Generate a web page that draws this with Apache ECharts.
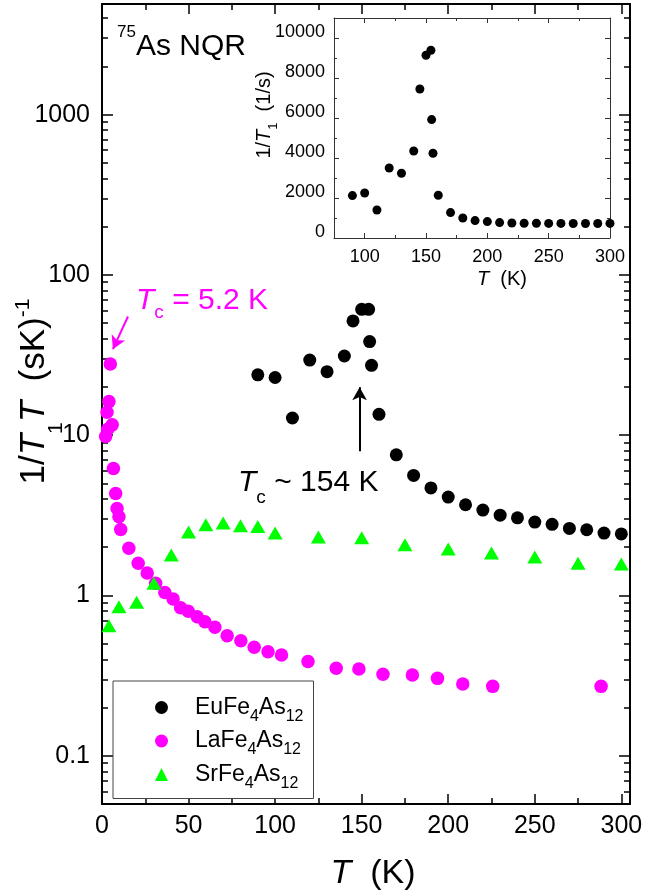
<!DOCTYPE html>
<html><head><meta charset="utf-8">
<script src="https://cdn.jsdelivr.net/npm/echarts@6/dist/echarts.min.js"></script>
<style>html,body{margin:0;padding:0;background:#fff}#c{width:667px;height:895px}</style>
</head><body><div id="c"></div>
<script>
// ---------- data ----------
const euT = [90,100,110,120,130,140,145,150,154,154.6,155.7,160,170,180,190,200,210,220,230,240,250,260,270,280,290,300];
const euV = [23.8,22.9,12.8,29.4,24.9,31.2,51.6,61,61,38.4,27.3,13.5,7.54,5.61,4.69,4.11,3.68,3.41,3.17,3.05,2.87,2.78,2.62,2.57,2.45,2.42];
const laT = [2.1,2.9,3.3,4.0,4.8,5.9,6.6,7.9,8.7,9.8,10.8,15.5,20.9,26.1,31,36.3,41.1,45.4,49.8,55,59.4,65.2,72.3,80.2,87.9,95.9,103.7,119,135.3,148.4,162.3,179.3,193.8,208.4,225.7,288.3];
const laV = [9.8,13.9,10.9,16.2,27.8,11.6,6.2,4.33,3.49,3.1,2.58,1.97,1.59,1.38,1.19,1.045,0.95,0.838,0.796,0.737,0.686,0.633,0.561,0.522,0.475,0.446,0.425,0.387,0.351,0.348,0.322,0.319,0.304,0.28,0.271,0.271];
const srT = [4,9.8,20,30,40,50,60,70,80,90,100,125,150,175,200,225,250,275,300];
const srV = [0.647,0.85,0.906,1.19,1.79,2.49,2.76,2.83,2.72,2.69,2.45,2.32,2.29,2.07,1.95,1.84,1.74,1.59,1.57];
const insetT = [90,100,110,120,130,140,145,150,154,154.6,155.7,160,170,180,190,200,210,220,230,240,250,260,270,280,290,300];
const insetV = [2120,2250,1400,3500,3235,4350,7450,9135,9385,5920,4235,2135,1270,1000,870,820,770,750,740,735,730,730,725,725,725,730];

// ---------- ticks ----------
const mainXMajor = [0,50,100,150,200,250,300];
const mainXMinor = [25,75,125,175,225,275];
const mainYMajor = [0.1,1,10,100,1000];
const mainYMinor = [0.06,0.07,0.08,0.09,0.2,0.3,0.4,0.5,0.6,0.7,0.8,0.9,2,3,4,5,6,7,8,9,20,30,40,50,60,70,80,90,200,300,400,500,600,700,800,900,2000,3000,4000];
const insetXMajor = [100,150,200,250,300];
const insetXMinor = [125,175,225,275];
const insetYMajor = [0,2000,4000,6000,8000,10000];
const insetYMinor = [1000,3000,5000,7000,9000];

// annotation arrows [fromT, fromV, toT, toV]
const arrowEu = [148.8, 7.95, 148.8, 19.9];
const arrowLa = [15, 55, 6.3, 34.4];

const seriesNames = ['EuFe4As12','LaFe4As12','SrFe4As12'];

const F = '"Liberation Sans", Arial, Helvetica, sans-serif';
const fmt = v => String(Number((+v).toPrecision(6)));

function ax(o) {
  const a = {
    type: o.type || 'value', gridIndex: o.grid, position: o.pos,
    min: o.min, max: o.max,
    splitLine: {show:false}, splitArea:{show:false},
    minorTick:{show:false}, minorSplitLine:{show:false},
    axisLine: {show: !!o.line, onZero:false, lineStyle:{color:o.color, width:o.lw}},
    axisTick: {show:true, inside:true, length:o.len, customValues:o.ticks, lineStyle:{color:o.color, width:o.tw}},
    axisLabel: o.labels ? Object.assign({show:true, customValues:o.labels, color:'#000', fontFamily:F, formatter: fmt}, o.label) : {show:false},
    axisPointer: {show:false}, silent:true, nameMoveOverlap:false
  };
  if (o.type === 'log') a.logBase = 10;
  if (o.name) Object.assign(a, o.name);
  return a;
}

const M = {color:'#000', lw:2, tw:1.5};
const I = {color:'#333', lw:1, tw:1};
const tok = (fs, extra) => Object.assign({fontSize:fs, fontFamily:F, fontWeight:'normal', color:'#000'}, extra);

const xAxes = [
  ax(Object.assign({grid:0,pos:'bottom',min:0,max:305,ticks:mainXMajor,len:10,line:true,labels:mainXMajor,
    label:{fontSize:25,margin:10},
    name:{name:'{i|T}{a|  (K)}', nameLocation:'middle', nameGap:50,
      nameTextStyle:{fontFamily:F,color:'#000',padding:[0,0,0,14],rich:{
        i:tok(34,{fontStyle:'italic',lineHeight:40,verticalAlign:'middle'}),
        a:tok(34,{lineHeight:40,verticalAlign:'middle'})}}}}, M)),
  ax(Object.assign({grid:0,pos:'bottom',min:0,max:305,ticks:mainXMinor,len:6}, M)),
  ax(Object.assign({grid:0,pos:'top',min:0,max:305,ticks:mainXMajor,len:10,line:true}, M)),
  ax(Object.assign({grid:0,pos:'top',min:0,max:305,ticks:mainXMinor,len:6}, M)),
  ax(Object.assign({grid:1,pos:'bottom',min:75,max:300,ticks:insetXMajor,len:5,line:true,labels:insetXMajor,
    label:{fontSize:18,margin:10},
    name:{name:'{i|T}{a|  (K)}', nameLocation:'middle', nameGap:29,
      nameTextStyle:{fontFamily:F,color:'#000',padding:[0,0,0,60],rich:{
        i:tok(20,{fontStyle:'italic',lineHeight:24,verticalAlign:'middle'}),
        a:tok(20,{lineHeight:24,verticalAlign:'middle'})}}}}, I)),
  ax(Object.assign({grid:1,pos:'bottom',min:75,max:300,ticks:insetXMinor,len:3}, I)),
  ax(Object.assign({grid:1,pos:'top',min:75,max:300,ticks:insetXMajor,len:5,line:true}, I)),
  ax(Object.assign({grid:1,pos:'top',min:75,max:300,ticks:insetXMinor,len:3}, I))
];
const yAxes = [
  ax(Object.assign({type:'log',grid:0,pos:'left',min:0.05,max:4900,ticks:mainYMajor,len:11,line:true,labels:mainYMajor,
    label:{fontSize:25,margin:12},
    name:{name:'{a|1/}{i|T}{b|1}{i|T}{a|  (sK)}{p|-1}', nameLocation:'middle', nameRotate:90, nameGap:35,
      nameTextStyle:{fontFamily:F,color:'#000',padding:[0,0,0,25],rich:{
        a:tok(35,{lineHeight:65,verticalAlign:'middle'}),
        i:tok(35,{fontStyle:'italic',lineHeight:65,verticalAlign:'middle'}),
        b:tok(21,{verticalAlign:'bottom'}),
        p:tok(21,{verticalAlign:'top',padding:[11,0,0,0]})}}}}, M)),
  ax(Object.assign({type:'log',grid:0,pos:'left',min:0.05,max:4900,ticks:mainYMinor,len:6}, M)),
  ax(Object.assign({type:'log',grid:0,pos:'right',min:0.05,max:4900,ticks:mainYMajor,len:11,line:true}, M)),
  ax(Object.assign({type:'log',grid:0,pos:'right',min:0.05,max:4900,ticks:mainYMinor,len:6}, M)),
  ax(Object.assign({grid:1,pos:'left',min:0,max:11000,ticks:insetYMajor,len:5,line:true,labels:insetYMajor,
    label:{fontSize:18,margin:9,verticalAlign:'bottom',lineHeight:12},
    name:{name:'{a|1/}{i|T}{b|1}{a|  (1/s)}', nameLocation:'middle', nameRotate:90, nameGap:54,
      nameTextStyle:{fontFamily:F,color:'#000',padding:[0,0,0,26],rich:{
        a:tok(20,{lineHeight:32,verticalAlign:'middle'}),
        i:tok(20,{fontStyle:'italic',lineHeight:32,verticalAlign:'middle'}),
        b:tok(13,{verticalAlign:'bottom'})}}}}, I)),
  ax(Object.assign({grid:1,pos:'left',min:0,max:11000,ticks:insetYMinor,len:3}, I)),
  ax(Object.assign({grid:1,pos:'right',min:0,max:11000,ticks:insetYMajor,len:5,line:true}, I)),
  ax(Object.assign({grid:1,pos:'right',min:0,max:11000,ticks:insetYMinor,len:3}, I))
];

const zip = (a, b) => a.map((t, i) => [t, b[i]]);
const arrowLine = (a, color) => ({
  silent:true, animation:false, symbol:['none','arrow'], symbolSize:[11,13],
  label:{show:false}, lineStyle:{color:color, width:2, type:'solid', opacity:1},
  emphasis:{disabled:true},
  data:[[{coord:[a[0],a[1]]},{coord:[a[2],a[3]]}]]
});

const titleStyle = (color, H, subFs) => ({
  fontFamily:F, color:color, fontWeight:'normal',
  rich:{
    i:tok(30,{fontStyle:'italic',lineHeight:H,verticalAlign:'middle',color:color}),
    m:tok(30,{lineHeight:H,verticalAlign:'middle',color:color}),
    c:tok(subFs,{verticalAlign:'bottom',color:color}),
    s:tok(subFs,{verticalAlign:'top',color:color})
  }
});

const option = {
  animation:false,
  backgroundColor:'#fff',
  grid:[
    {left:102, top:4, width:528, height:800, outerBoundsMode:'none', containLabel:false},
    {left:334, top:18, width:276, height:220, outerBoundsMode:'none', containLabel:false}
  ],
  xAxis:xAxes,
  yAxis:yAxes,
  title:[
    {text:'{s|75}{m|As NQR}', left:117, top:23.5, padding:0, textStyle:titleStyle('#000', 46, 17)},
    {text:'{i|T}{c|c}{m| = 5.2 K}', left:136, top:279.5, padding:0, textStyle:titleStyle('#ff00ff', 43, 19)},
    {text:'{i|T}{c|c}{m| ~ 154 K}', left:238, top:457.5, padding:0, textStyle:titleStyle('#000', 50, 19)}
  ],
  legend:{
    data:[{name:seriesNames[0],icon:'circle'},{name:seriesNames[1],icon:'circle'},{name:seriesNames[2],icon:'triangle'}],
    orient:'vertical', left:113, top:681, padding:[15,10,7,42], itemGap:5,
    itemWidth:13, itemHeight:13, backgroundColor:'#fff', borderColor:'#444', borderWidth:1, borderRadius:0,
    selectedMode:false,
    itemStyle:{opacity:1},
    formatter: n => '{g| }{m|' + n.slice(0,4) + '}{s|4}{m|As}{s|12}',
    textStyle:{fontFamily:F, fontSize:23, color:'#000', rich:{
      g:tok(23,{width:22, lineHeight:34, verticalAlign:'middle'}),
      m:tok(23,{lineHeight:34, verticalAlign:'middle'}),
      s:tok(16,{verticalAlign:'bottom'})
    }}
  },
  series:[
    {name:seriesNames[0], type:'scatter', xAxisIndex:0, yAxisIndex:0, symbol:'circle', symbolSize:13,
     itemStyle:{color:'#000', opacity:1}, data:zip(euT, euV), markLine:arrowLine(arrowEu, '#000'), z:3},
    {name:seriesNames[1], type:'scatter', xAxisIndex:0, yAxisIndex:0, symbol:'circle', symbolSize:13.5,
     itemStyle:{color:'#ff00ff', opacity:1}, data:zip(laT, laV), markLine:arrowLine(arrowLa, '#ff00ff'), z:3},
    {name:seriesNames[2], type:'scatter', xAxisIndex:0, yAxisIndex:0, symbol:'triangle', symbolSize:[15,13],
     itemStyle:{color:'#00ff00', opacity:1}, data:zip(srT, srV), z:3},
    {name:'EuFe4As12 1/T1', type:'scatter', xAxisIndex:4, yAxisIndex:4, symbol:'circle', symbolSize:9,
     itemStyle:{color:'#000', opacity:1}, data:zip(insetT, insetV), z:3}
  ]
};
const chart = echarts.init(document.getElementById('c'), null, {renderer:'canvas'});
chart.setOption(option);
</script></body></html>
